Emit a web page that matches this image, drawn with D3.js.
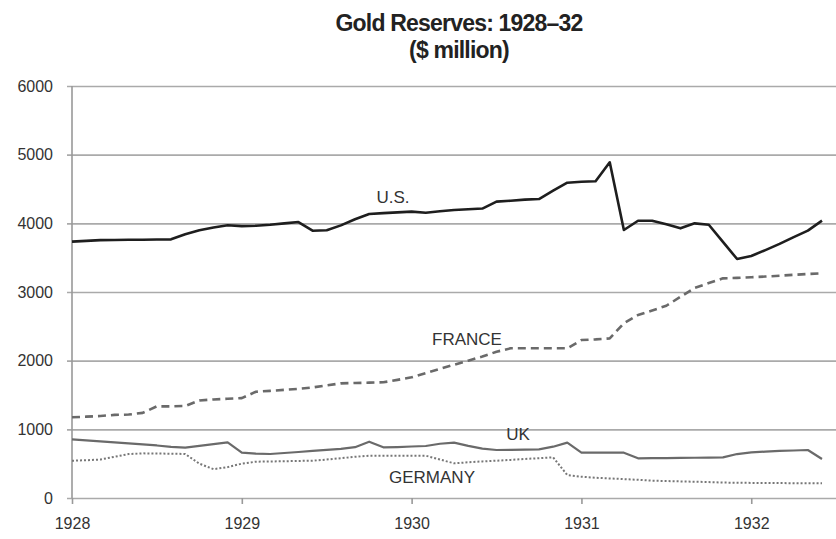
<!DOCTYPE html>
<html>
<head>
<meta charset="utf-8">
<script src="https://cdn.jsdelivr.net/npm/d3@7"></script>
<style>
  body { margin: 0; background: #fff; }
  text { font-family: "Liberation Sans", Arial, sans-serif; }
</style>
</head>
<body>
<svg id="chart" width="836" height="539"></svg>
<script>
// monthly gold reserves, Jan 1928 .. Jun 1932 ($ million)
var years = ["1928", "1929", "1930", "1931", "1932"];
var yTicks = [0, 1000, 2000, 3000, 4000, 5000, 6000];

var us = [3733, 3745, 3755, 3758, 3760, 3762, 3764, 3767, 3840, 3900, 3940, 3971,
  3960, 3965, 3980, 4000, 4019, 3893, 3900, 3970, 4060, 4136, 4148, 4160,
  4170, 4155, 4175, 4195, 4205, 4215, 4316, 4330, 4345, 4354, 4475, 4592,
  4605, 4612, 4889, 3903, 4038, 4038, 3985, 3927, 4000, 3980, 3730, 3480,
  3524, 3610, 3700, 3800, 3893, 4040];

var france = [1175, 1185, 1194, 1210, 1215, 1240, 1335, 1335, 1340, 1420, 1435, 1445,
  1455, 1548, 1560, 1575, 1590, 1610, 1640, 1670, 1675, 1680, 1685, 1720,
  1758, 1820, 1880, 1940, 2000, 2060, 2130, 2180, 2180, 2180, 2180, 2180,
  2300, 2310, 2325, 2544, 2665, 2730, 2800, 2930, 3060, 3130, 3199, 3205,
  3215, 3225, 3237, 3250, 3262, 3272];

var uk = [855, 840, 825, 810, 795, 780, 765, 745, 733, 760, 785, 811,
  660, 645, 641, 655, 670, 685, 700, 715, 740, 820, 738, 742,
  750, 757, 790, 806, 760, 720, 699, 700, 705, 709, 747, 806,
  660, 660, 660, 660, 578, 580, 582, 584, 586, 588, 592, 640,
  665, 675, 685, 692, 699, 568];

var germany = [543, 550, 560, 600, 640, 650, 648, 645, 641, 500, 420, 450,
  500, 529, 532, 535, 540, 543, 560, 580, 600, 616, 616, 616,
  616, 616, 560, 505, 520, 533, 543, 555, 568, 580, 592, 335,
  310, 295, 285, 275, 265, 252, 247, 242, 237, 232, 225, 222,
  220, 219, 217, 216, 215, 214];

var series = [
  {name: "U.S.", values: us, color: "#1e1e1e", width: 2.6, dash: null, lx: 393, ly: 203},
  {name: "FRANCE", values: france, color: "#6a6a6a", width: 2.6, dash: "8,5", lx: 467, ly: 345},
  {name: "UK", values: uk, color: "#6a6a6a", width: 2.2, dash: null, lx: 518, ly: 440},
  {name: "GERMANY", values: germany, color: "#777", width: 2, dash: "2,2", lx: 432, ly: 483}
];

var svg = d3.select("#chart");
// plot box (note: "top" would clash with window.top)
var plotL = 72, plotR = 836, plotT = 86, plotB = 498;

var x = d3.scaleLinear().domain([0, 53]).range([plotL, 822]);
var y = d3.scaleLinear().domain([0, 6000]).range([plotB, plotT]);

// title
svg.append("text")
  .attr("x", 459).attr("y", 31)
  .attr("text-anchor", "middle")
  .style("font-weight", "bold").style("font-size", "23px").style("fill", "#222")
  .style("letter-spacing", "-0.8px")
  .text("Gold Reserves: 1928\u201332");
svg.append("text")
  .attr("x", 459).attr("y", 58)
  .attr("text-anchor", "middle")
  .style("font-weight", "bold").style("font-size", "23px").style("fill", "#222")
  .style("letter-spacing", "-0.8px")
  .text("($ million)");

// y grid + labels
var yAxis = svg.append("g")
  .attr("transform", "translate(" + plotL + ",0)")
  .call(d3.axisLeft(y).tickValues(yTicks).tickFormat(d3.format("d"))
    .tickSize(-(plotR - plotL)).tickPadding(19));
yAxis.select(".domain").remove();
yAxis.selectAll(".tick line").attr("x1", -5).attr("stroke", "#aaa").attr("stroke-width", 1.6);
yAxis.selectAll(".tick text").style("font-size", "16px").style("fill", "#333");

// left axis line
svg.append("line")
  .attr("x1", plotL).attr("x2", plotL)
  .attr("y1", plotT).attr("y2", plotB)
  .attr("stroke", "#999").attr("stroke-width", 1.6);

// x axis ticks + labels
var xAxis = svg.append("g")
  .attr("transform", "translate(0," + plotB + ")")
  .call(d3.axisBottom(x).tickValues([0, 12, 24, 36, 48])
    .tickFormat(function(d, i) { return years[i]; })
    .tickSize(6).tickPadding(14));
xAxis.select(".domain").remove();
xAxis.selectAll(".tick line").attr("stroke", "#999").attr("stroke-width", 1.6);
xAxis.selectAll(".tick text").style("font-size", "16px").style("fill", "#333");

var line = d3.line()
  .x(function(d, i) { return x(i); })
  .y(function(d) { return y(d); });

series.forEach(function(s) {
  svg.append("path")
    .datum(s.values)
    .attr("d", line)
    .attr("fill", "none")
    .attr("stroke", s.color)
    .attr("stroke-width", s.width)
    .attr("stroke-linejoin", "round")
    .attr("stroke-dasharray", s.dash);

  svg.append("text")
    .attr("x", s.lx).attr("y", s.ly)
    .attr("text-anchor", "middle")
    .style("font-size", "17px").style("fill", "#333")
    .text(s.name);
});
</script>
</body>
</html>
